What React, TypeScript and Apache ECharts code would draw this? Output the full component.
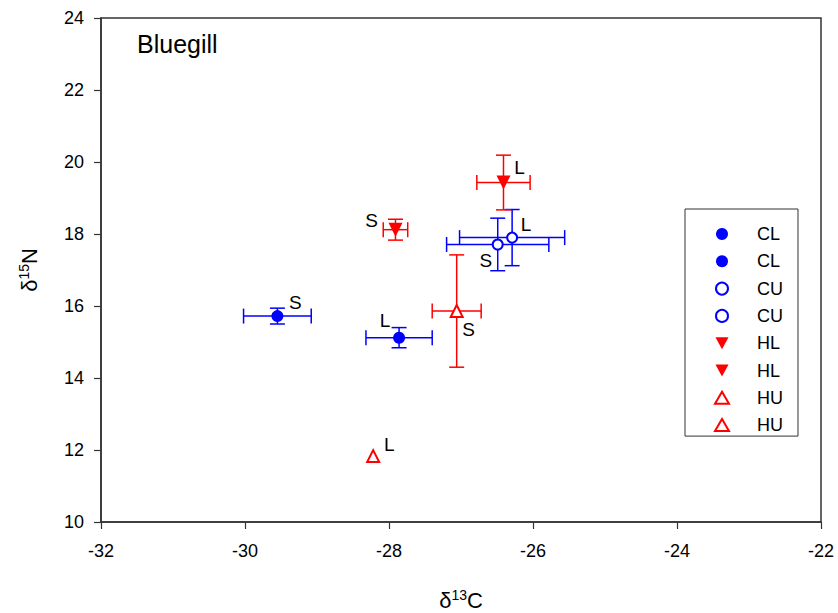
import React, { useEffect, useRef } from "react";
import * as echarts from "echarts";

// Bluegill stable isotope means (± error) per habitat group and size class
const groups = ["CL", "CL", "CU", "CU", "HL", "HL", "HU", "HU"];
const sizeClass = ["S", "L", "S", "L", "S", "L", "S", "L"];
const d13C = [-29.55, -27.86, -26.49, -26.29, -27.91, -26.41, -27.06, -28.22];
const d15N = [15.72, 15.12, 17.71, 17.9, 18.12, 19.43, 15.86, 11.83];
const d13CErr = [0.47, 0.46, 0.71, 0.73, 0.17, 0.37, 0.34, 0];
const d15NErr = [0.22, 0.28, 0.73, 0.78, 0.29, 0.76, 1.56, 0];

const xTicks = [-32, -30, -28, -26, -24, -22];
const yTicks = [10, 12, 14, 16, 18, 20, 22, 24];

// Marker styles per group
const BLUE = "#0000ff";
const RED = "#ff0000";
const DOWN_TRIANGLE = "path://M0,0L12,0L6,11Z";
const groupStyle: Record<
  string,
  { symbol: string; rotate: number; color: string; size: number; legendIcon?: string }
> = {
  CL: { symbol: "circle", rotate: 0, color: BLUE, size: 12 },
  CU: { symbol: "emptyCircle", rotate: 0, color: BLUE, size: 10 },
  HL: { symbol: "triangle", rotate: 180, color: RED, size: 14, legendIcon: DOWN_TRIANGLE },
  HU: { symbol: "emptyTriangle", rotate: 0, color: RED, size: 12 },
};

// Where each S/L tag sits relative to its marker
const labelOffsets: [number, number][] = [
  [18, -14],
  [-14, -17],
  [-12, 16],
  [14, -13],
  [-24, -9],
  [16, -15],
  [12, 18],
  [16, -12],
];

const FONT = "Liberation Sans, Arial, sans-serif";

export default function App() {
  const ref = useRef<HTMLDivElement>(null);

  useEffect(() => {
    if (!ref.current) return;
    document.body.style.margin = "0";
    const chart = echarts.init(ref.current, undefined, { renderer: "svg" });

    const names = groups.map((g, i) => `${g} ${sizeClass[i]}`);

    const scatterSeries = groups.map((g, i) => {
      const st = groupStyle[g];
      return {
        type: "scatter",
        name: names[i],
        z: 5,
        symbol: st.symbol,
        symbolRotate: st.rotate,
        symbolSize: st.size,
        itemStyle: {
          color: st.color,
          borderColor: st.color,
          borderWidth: st.symbol.startsWith("empty") ? 1.5 : 0,
          opacity: 1,
        },
        label: {
          show: true,
          position: "inside",
          offset: labelOffsets[i],
          formatter: sizeClass[i],
          color: "#000",
          fontSize: 19,
          fontFamily: FONT,
        },
        emphasis: { disabled: true },
        data: [[d13C[i], d15N[i]]],
      };
    });

    const errData = d13C.map((x, i) => [x, d15N[i], d13CErr[i], d15NErr[i], i]);

    const errorSeries = {
      type: "custom",
      name: "err",
      z: 2,
      silent: true,
      encode: { x: 0, y: 1 },
      data: errData,
      renderItem: (_params: any, api: any) => {
        const x = api.value(0);
        const y = api.value(1);
        const ex = api.value(2);
        const ey = api.value(3);
        const idx = api.value(4);
        const color = groupStyle[groups[idx]].color;
        const style = { stroke: color, lineWidth: 1.5 };
        const cap = 7.5;
        const children: any[] = [];
        if (ex > 0) {
          const l = api.coord([x - ex, y]);
          const r = api.coord([x + ex, y]);
          children.push(
            { type: "line", shape: { x1: l[0], y1: l[1], x2: r[0], y2: r[1] }, style },
            { type: "line", shape: { x1: l[0], y1: l[1] - cap, x2: l[0], y2: l[1] + cap }, style },
            { type: "line", shape: { x1: r[0], y1: r[1] - cap, x2: r[0], y2: r[1] + cap }, style }
          );
        }
        if (ey > 0) {
          const t = api.coord([x, y + ey]);
          const b = api.coord([x, y - ey]);
          children.push(
            { type: "line", shape: { x1: t[0], y1: t[1], x2: b[0], y2: b[1] }, style },
            { type: "line", shape: { x1: t[0] - cap, y1: t[1], x2: t[0] + cap, y2: t[1] }, style },
            { type: "line", shape: { x1: b[0] - cap, y1: b[1], x2: b[0] + cap, y2: b[1] }, style }
          );
        }
        return { type: "group", children };
      },
    };

    const axisCommon = {
      axisLine: { show: true, onZero: false, lineStyle: { color: "#333", width: 1.5 } },
      axisTick: { show: true, inside: false, length: 7, lineStyle: { color: "#333", width: 1.2 } },
      splitLine: { show: false },
    };

    const nameRich = {
      a: { fontSize: 22, fontFamily: FONT, color: "#000", lineHeight: 24 },
      s: { fontSize: 14, fontFamily: FONT, color: "#000", verticalAlign: "top", lineHeight: 14 },
    };

    chart.setOption({
      animation: false,
      backgroundColor: "#fff",
      textStyle: { fontFamily: FONT },
      grid: {
        left: 101,
        top: 18,
        width: 720,
        height: 504,
        show: true,
        borderColor: "#333",
        borderWidth: 1.5,
        containLabel: false,
        outerBoundsMode: "none",
      },
      xAxis: {
        type: "value",
        min: xTicks[0],
        max: xTicks[xTicks.length - 1],
        interval: 2,
        ...axisCommon,
        axisLabel: { color: "#000", fontSize: 18, fontFamily: FONT, margin: 20 },
        name: "{a|δ}{s|13}{a|C}",
        nameLocation: "middle",
        nameGap: 66,
        nameTextStyle: { rich: nameRich },
      },
      yAxis: {
        type: "value",
        min: yTicks[0],
        max: yTicks[yTicks.length - 1],
        interval: 2,
        ...axisCommon,
        axisLabel: { color: "#000", fontSize: 18, fontFamily: FONT, margin: 17 },
        name: "{a|δ}{s|15}{a|N}",
        nameLocation: "middle",
        nameGap: 60,
        nameTextStyle: { rich: nameRich },
      },
      legend: {
        orient: "vertical",
        left: 685,
        top: 209,
        data: names.map((n, i) => {
          const icon = groupStyle[groups[i]].legendIcon;
          return icon ? { name: n, icon } : { name: n };
        }),
        formatter: (name: string) => name.split(" ")[0],
        itemWidth: 14,
        itemHeight: 12,
        itemGap: 9.3,
        padding: [16, 15, 2, 29],
        borderColor: "#333",
        borderWidth: 1,
        selectedMode: false,
        textStyle: { color: "#000", fontSize: 18, fontFamily: FONT, lineHeight: 18, padding: [0, 0, 0, 23] },
      },
      graphic: [
        {
          type: "text",
          left: 137,
          top: 31,
          style: { text: "Bluegill", fill: "#000", font: `25px ${FONT}` },
        },
      ],
      series: [errorSeries, ...scatterSeries],
    });

    return () => chart.dispose();
  }, []);

  return <div ref={ref} style={{ width: 838, height: 613 }} />;
}
